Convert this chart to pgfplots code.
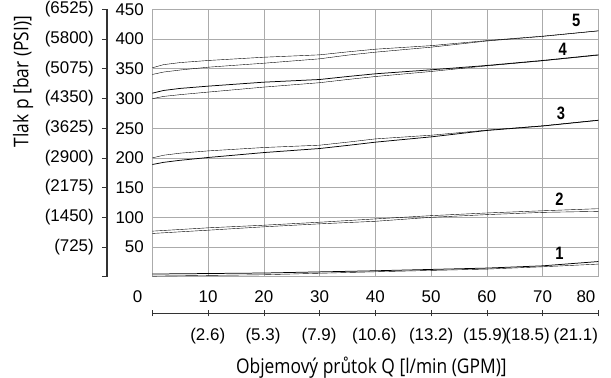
\documentclass[border=0pt]{standalone}
\usepackage{pgfplots}
\pgfplotsset{compat=1.18}
\usepackage{fontspec}
\setmainfont{Open Sans}
\newfontfamily\labfont[FakeStretch=0.86]{Open Sans}
\newfontfamily\numfont{Liberation Sans}
\newfontfamily\lblfont[FakeStretch=0.82]{Liberation Sans}
\definecolor{gridgray}{HTML}{ABABAB}
\definecolor{axdark}{HTML}{333333}
\begin{document}
\begin{tikzpicture}
% main axis
\begin{axis}[
  at={(0,0)}, anchor=south west,
  scale only axis, width=446bp, height=267.3bp,
  xmin=0, xmax=80, ymin=0, ymax=450,
  xtick={0,10,...,80}, ytick={0,50,...,450},
  xticklabels={\makebox[0pt][r]{0\hspace{10bp}},10,20,30,40,50,60,70,\makebox[0pt][r]{80\hspace{3bp}}},
  yticklabels={,50,100,150,200,250,300,350,400,450},
  grid=major, major grid style={gridgray, line width=0.75pt},
  axis line style={gridgray, line width=0.75pt},
  tick style={draw=none},
  ticklabel style={font=\numfont\fontsize{17}{20}\selectfont, inner sep=0pt},
  xticklabel style={anchor=north, yshift=-14bp},
  yticklabel style={anchor=east, xshift=-8.4bp},
  xlabel={Objemový průtok Q [l/min (GPM)]},
  ylabel={Tlak p [bar (PSI)]},
  label style={font=\labfont\fontsize{20.3}{24}\selectfont, inner sep=0pt},
  xlabel style={at={(rel axis cs:0.491,-0.3624)}, anchor=base},
  ylabel style={at={(rel axis cs:-0.2901,0.73)}, anchor=center},
  cycle list={{black, solid, line width=0.75pt}},
  every axis plot/.append style={no markers},
]
% curve 5
\addplot coordinates {(0,351.7) (2,357) (5,360.5) (10,364) (20,369.5) (30,373.5) (35,378.5) (40,383) (50,389) (60,397.5) (70,405) (80,414)};
\addplot coordinates {(0,340.5) (2,344.5) (5,348) (10,352.7) (20,359.4) (30,366.8) (35,373) (40,378) (50,386.4) (60,396.8) (70,404.5) (80,413.8)};
% curve 4
\addplot coordinates {(0,309) (2,313.5) (5,317) (10,320.8) (20,327.5) (30,332) (35,337) (40,341.6) (50,348.3) (60,355.6) (70,364) (80,373.5)};
\addplot coordinates {(0,299.7) (2,303.5) (5,306.5) (10,310.8) (20,319.2) (30,326.6) (35,332) (40,337) (50,345.5) (60,355) (70,363.5) (80,373)};
% curve 3
\addplot coordinates {(0,200) (2,204.5) (5,208) (10,211.8) (20,217.5) (30,221.4) (35,226.5) (40,232) (50,238.2) (60,246.7) (70,254) (80,263.6)};
\addplot coordinates {(0,188.9) (2,192.5) (5,196) (10,200.7) (20,209) (30,215.8) (35,221) (40,226.5) (50,235.4) (60,246.2) (70,253.7) (80,263.3)};
% curve 2
\addplot coordinates {(0,76.7) (10,82.3) (20,86.7) (30,91.7) (40,97.3) (50,102.8) (60,107.3) (70,111) (80,114.5)};
\addplot coordinates {(0,72.8) (10,78.3) (20,84) (30,89) (40,93.3) (50,100) (60,104.5) (70,108.3) (80,110)};
% curve 1
\addplot coordinates {(0,4.5) (20,6.2) (40,10) (60,14.5) (70,18.3) (80,25.5)};
\addplot coordinates {(0,1) (20,3.3) (40,8.3) (60,12.8) (70,16.7) (80,21.2)};
% curve labels
\node[font=\lblfont\bfseries\fontsize{18}{20}\selectfont] at (axis cs:76,431) {5};
\node[font=\lblfont\bfseries\fontsize{18}{20}\selectfont] at (axis cs:73.6,382.4) {4};
\node[font=\lblfont\bfseries\fontsize{18}{20}\selectfont] at (axis cs:73.3,275) {3};
\node[font=\lblfont\bfseries\fontsize{18}{20}\selectfont] at (axis cs:73,130.7) {2};
\node[font=\lblfont\bfseries\fontsize{18}{20}\selectfont] at (axis cs:73,39) {1};
\end{axis}
% PSI axis (ticks and labels)
\begin{axis}[
  at={(-45.4bp,0)}, anchor=south west,
  scale only axis, width=446bp, height=267.3bp,
  xmin=0, xmax=80, ymin=0, ymax=450,
  axis x line=none, axis y line*=left,
  ytick={0,50,...,450},
  yticklabels={,(725),(1450),(2175),(2900),(3625),(4350),(5075),(5800),(6525)},
  axis line style={axdark, line width=0.7pt},
  tick style={axdark, line width=0.7pt},
  tick align=outside, major tick length=5bp,
  ticklabel style={font=\numfont\fontsize{17}{20}\selectfont, inner sep=0pt},
  yticklabel style={anchor=east, xshift=-8bp},
]
\end{axis}
% GPM axis (ticks and labels)
\begin{axis}[
  at={(0,-36.6bp)}, anchor=south west,
  scale only axis, width=446bp, height=267.3bp,
  xmin=0, xmax=80, ymin=0, ymax=450,
  axis y line=none, axis x line*=bottom,
  xtick={0,10,...,80}, xticklabels={},
  extra x ticks={9.93,19.84,29.9,39.8,50.0,59.7,67.3,75.95},
  extra x tick labels={(2.6),(5.3),(7.9),(10.6),(13.2),(15.9),(18.5),(21.1)},
  extra x tick style={tick style={draw=none}},
  axis line style={axdark, line width=0.7pt},
  tick style={axdark, line width=0.7pt},
  tick align=center, major tick length=6bp,
  ticklabel style={font=\numfont\fontsize{17}{20}\selectfont, inner sep=0pt},
  xticklabel style={anchor=north, yshift=-11.7bp},
]
\end{axis}
% secondary axis lines as thin filled bars
\fill[axdark] (-46bp,-0.4bp) rectangle (-44.8bp,267.7bp);
\fill[axdark] (-0.4bp,-37.2bp) rectangle (446.4bp,-36bp);
\pgfresetboundingbox
\path (-152.4bp,-101.3bp) rectangle (458.6bp,276.7bp);
\end{tikzpicture}
\end{document}
